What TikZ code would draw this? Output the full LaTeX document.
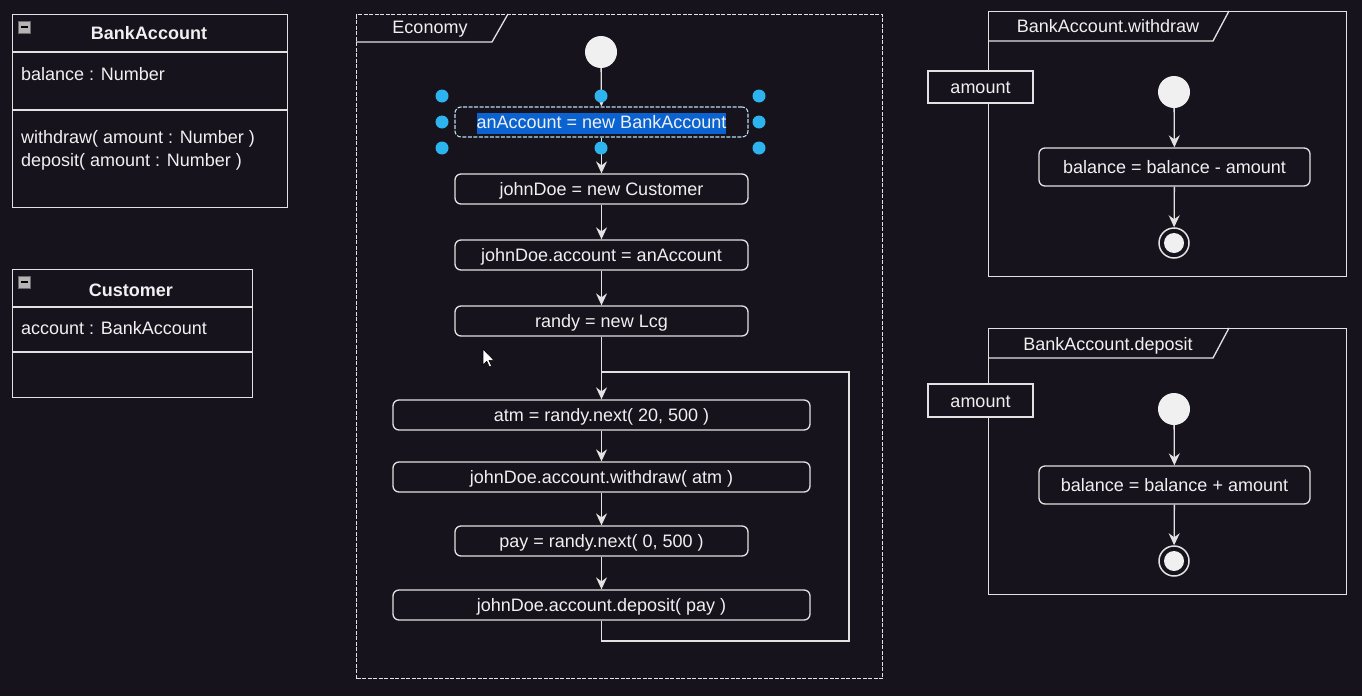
\documentclass[tikz,border=0pt]{standalone}
\usepackage{fontspec}
\setmainfont{Liberation Sans}
\usetikzlibrary{arrows.meta,calc}
\definecolor{bg}{HTML}{16131C}
\definecolor{ln}{HTML}{E2E2E2}
\definecolor{tx}{HTML}{F0F0F0}
\definecolor{hl}{HTML}{0A63D1}
\definecolor{hd}{HTML}{2DB3EE}
\definecolor{sel}{HTML}{B8DDF0}
\definecolor{icf}{HTML}{B4B4B4}
\definecolor{ice}{HTML}{6A6A6A}
\begin{document}
\begin{tikzpicture}[x=1pt,y=-1pt,
  every node/.style={inner sep=0pt, text=tx, font=\fontsize{18}{21}\selectfont},
  txt/.style={text height=15pt, text depth=2pt},
  frm/.style={draw=ln, line width=1.3pt},
  act/.style={draw=ln, line width=1.3pt, rounded corners=6pt, minimum height=30pt, txt},
  arr/.style={draw=ln, line width=1.3pt, -{Stealth[length=12pt,width=11pt,inset=4pt]}},
  lnk/.style={draw=ln, line width=1.3pt},
  startnode/.style={circle, fill=tx, minimum size=32pt},
  finalnode/.style={circle, draw=ln, line width=1.5pt, minimum size=30pt},
  icon/.style={draw=ice, fill=icf, line width=0.8pt, minimum size=12pt},
  pin/.style={draw=ln, fill=bg, line width=1.3pt, txt}
]
\fill[bg] (0,0) rectangle (1362,696);
\useasboundingbox (0,0) rectangle (1362,696);

% ---------- class BankAccount ----------
\node[frm, anchor=north west, minimum width=275pt, minimum height=193pt] (ba) at (12,14) {};
\draw[lnk] (12,52) -- (287,52);
\draw[lnk] (12,110) -- (287,110);
\node[icon] (bai) at (24.5,27) {};
\draw[black, line width=1.6pt] ($(bai.west)+(2.5,0)$) -- ($(bai.east)+(-2.5,0)$);
\node[txt, font=\fontsize{18}{21}\selectfont\bfseries] (bat) at (149,33) {BankAccount};
\node[txt, anchor=west] (bab) at (21,74) {balance : Number};
\node[txt, anchor=west] (bam1) at (21,137) {withdraw( amount : Number )};
\node[txt, anchor=west] (bam2) at (21,160) {deposit( amount : Number )};

% ---------- class Customer ----------
\node[frm, anchor=north west, minimum width=240pt, minimum height=128pt] (cu) at (12,269) {};
\draw[lnk] (12,307) -- (252,307);
\draw[lnk] (12,352) -- (252,352);
\node[icon] (cui) at (24.5,282) {};
\draw[black, line width=1.6pt] ($(cui.west)+(2.5,0)$) -- ($(cui.east)+(-2.5,0)$);
\node[txt, font=\fontsize{18}{21}\selectfont\bfseries] (cut) at (131,290) {Customer};
\node[txt, anchor=west] (cua) at (21,328) {account : BankAccount};

% ---------- Economy frame ----------
\node[draw=ln, line width=1.2pt, dash pattern=on 4pt off 1.5pt, anchor=north west,
      minimum width=526pt, minimum height=664pt] (eco) at (356,14) {};
\draw[lnk] (356,42) -- (492,42) -- (508,14);
\node[txt] (ecol) at (430,27) {Economy};

\node[startnode] (e0) at (601,52) {};
\node[act, draw=sel, line width=1.1pt, dash pattern=on 4pt off 1.5pt, minimum width=293pt] (a1) at (601.5,122)
  {{\setlength{\fboxsep}{0pt}\colorbox{hl}{\rule[-5.5pt]{0pt}{21pt}anAccount = new BankAccount}}};
\node[act, minimum width=293pt] (a2) at (601.5,189) {johnDoe = new Customer};
\node[act, minimum width=293pt] (a3) at (601.5,255) {johnDoe.account = anAccount};
\node[act, minimum width=293pt] (a4) at (601.5,321) {randy = new Lcg};
\node[act, minimum width=417pt] (a5) at (601.5,415) {atm = randy.next( 20, 500 )};
\node[act, minimum width=417pt] (a6) at (601.5,477) {johnDoe.account.withdraw( atm )};
\node[act, minimum width=293pt] (a7) at (601.5,541) {pay = randy.next( 0, 500 )};
\node[act, minimum width=417pt] (a8) at (601.5,605) {johnDoe.account.deposit( pay )};

\coordinate (lp1) at (849,641);
\coordinate (lp2) at (849,372);
\coordinate (lpj) at (601.5,372);

\draw[arr] (e0) -- (a1);
\draw[arr] (a1) -- (a2);
\draw[arr] (a2) -- (a3);
\draw[arr] (a3) -- (a4);
\draw[arr] (a4) -- (a5);
\draw[arr] (a5) -- (a6);
\draw[arr] (a6) -- (a7);
\draw[arr] (a7) -- (a8);
\draw[lnk] (a8.south) |- (lp1) -- (lp2) -- (lpj);

% selection handles
\foreach \hx/\hy in {442/96, 601/96, 759/96, 442/122, 759/122, 442/148, 601/148, 759/148}
  \fill[hd] (\hx,\hy) circle (6.5);

% mouse pointer
\draw[black, fill=white, line width=0.6pt, line join=round]
  (483,349) -- (483,365) -- (486.8,361.3) -- (489.4,367) -- (491.6,366) -- (489,360.4) -- (494,360.4) -- cycle;

% ---------- BankAccount.withdraw ----------
\node[frm, anchor=north west, minimum width=358pt, minimum height=265pt] (wf) at (988,11) {};
\draw[lnk] (988,41) -- (1213,41) -- (1229,11);
\node[txt] (wfl) at (1108,26) {BankAccount.withdraw};
\node[pin, minimum width=105pt, minimum height=32pt] (wp) at (980.5,87) {amount};
\node[startnode] (w0) at (1174,92) {};
\node[act, minimum width=271pt, minimum height=38pt] (wa) at (1174.5,167) {balance = balance - amount};
\node[finalnode] (wfin) at (1174,243) {};
\fill[tx] (wfin.center) circle (10);
\draw[arr] (w0) -- (wa);
\draw[arr] (wa) -- (wfin);

% ---------- BankAccount.deposit ----------
\node[frm, anchor=north west, minimum width=358pt, minimum height=266pt] (df) at (988,328) {};
\draw[lnk] (988,358) -- (1213,358) -- (1229,328);
\node[txt] (dfl) at (1108,344) {BankAccount.deposit};
\node[pin, minimum width=105pt, minimum height=33pt] (dp) at (980.5,400.5) {amount};
\node[startnode] (d0) at (1174,409) {};
\node[act, minimum width=271pt, minimum height=38pt] (da) at (1174.5,485) {balance = balance + amount};
\node[finalnode] (dfin) at (1174,561) {};
\fill[tx] (dfin.center) circle (10);
\draw[arr] (d0) -- (da);
\draw[arr] (da) -- (dfin);
\end{tikzpicture}
\end{document}
